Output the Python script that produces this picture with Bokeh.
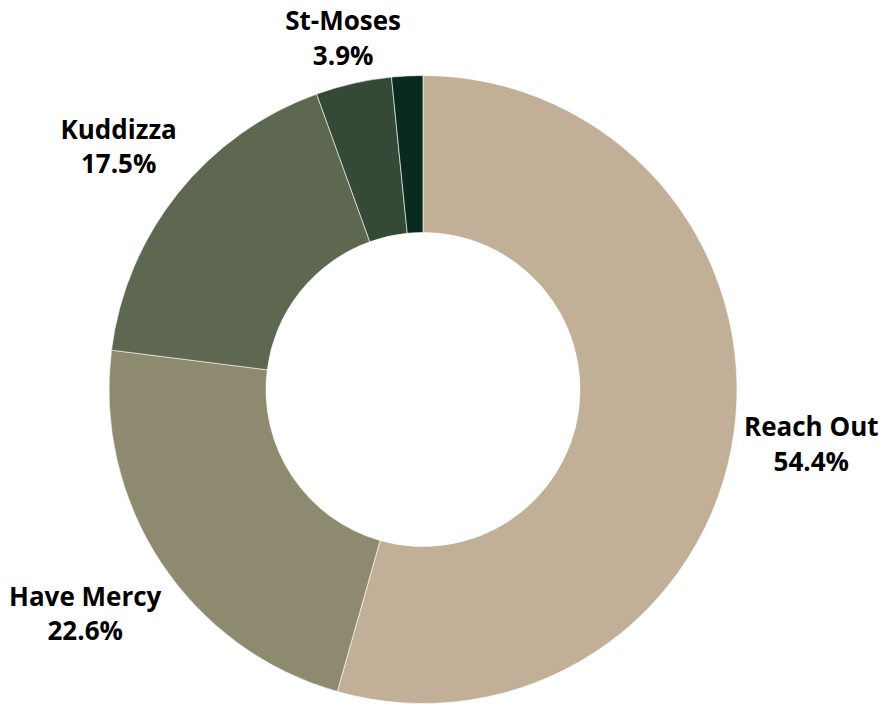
import math
from bokeh.plotting import figure
from bokeh.models import Range1d, ColumnDataSource
from bokeh.core.properties import value
from bokeh.embed import file_html
from bokeh.resources import INLINE

# ---- data ----
names = ["Reach Out", "Have Mercy", "Kuddizza", "St-Moses", "Other"]
shares = [54.4, 22.6, 17.5, 3.9, 1.6]
colors = ["#C2AF97", "#8E8A70", "#5E6850", "#344A36", "#0B2A1F"]
show_label = [True, True, True, True, False]

# ---- layout ----
W, H = 881, 707
cx, cy = 422.5, 318.0   # centre in plot coordinates
R_out, R_in = 314.0, 157.0
label_r = [392.0, 405.0, 390.0, 361.0, 0.0]

p = figure(width=W, height=H, output_backend="svg", toolbar_location=None,
           x_range=Range1d(0, W), y_range=Range1d(0, H), min_border=0)
p.axis.visible = False
p.grid.visible = False
p.outline_line_color = None

total = sum(shares)
starts, ends, lx, ly, ltxt = [], [], [], [], []
cum = 0.0
for i, s in enumerate(shares):
    a0 = math.pi / 2 - cum / total * 2 * math.pi
    a1 = math.pi / 2 - (cum + s) / total * 2 * math.pi
    starts.append(a0)
    ends.append(a1)
    mid = (a0 + a1) / 2
    if show_label[i]:
        lx.append(cx + label_r[i] * math.cos(mid))
        ly.append(cy + label_r[i] * math.sin(mid))
        ltxt.append(f"{names[i]}\n{s}%")
    cum += s

src = ColumnDataSource(dict(start=starts, end=ends, color=colors))
p.annular_wedge(x=cx, y=cy, inner_radius=R_in, outer_radius=R_out,
                start_angle="start", end_angle="end", direction="clock",
                fill_color="color", line_color="white", line_width=0.6,
                source=src)

p.text(x=lx, y=ly, text=ltxt, text_font=value("Open Sans"),
       text_font_style="bold", text_font_size="26px", text_color="#000000",
       text_align="center", text_baseline="middle", text_line_height=0.95)

open("out.html", "w").write(file_html(p, INLINE))
